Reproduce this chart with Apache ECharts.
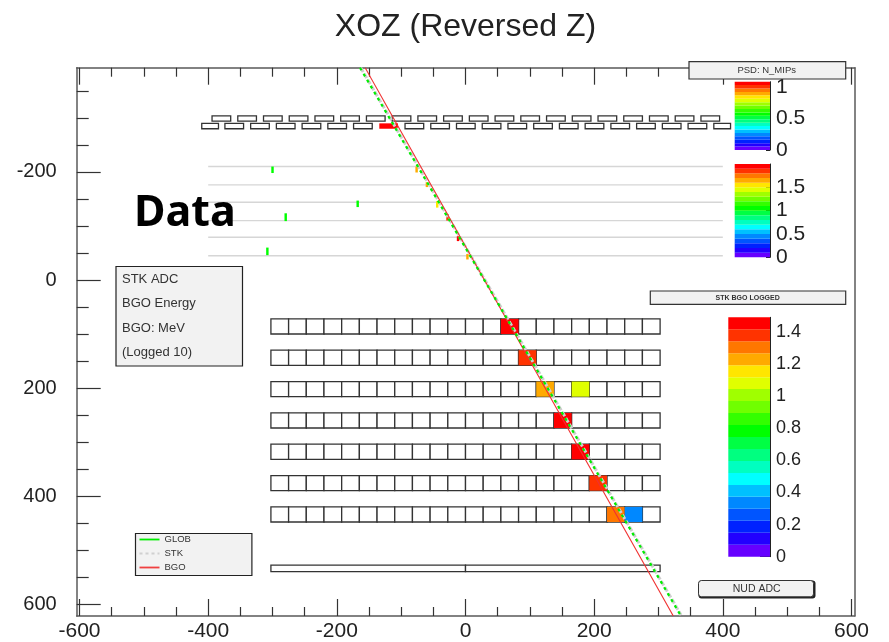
<!DOCTYPE html>
<html><head><meta charset="utf-8">
<style>html,body{margin:0;padding:0;background:#fff}#c{width:889px;height:642px}</style>
<script src="https://cdn.jsdelivr.net/npm/echarts@6/dist/echarts.min.js"></script>
</head><body><div id="c"></div>
<script>
// Axis ticks
const X_MAJOR = [-600,-400,-200,0,200,400,600];
const X_MINOR = [-550,-500,-450,-350,-300,-250,-150,-100,-50,50,100,150,250,300,350,450,500,550];
const Y_MAJOR = [-200,0,200,400,600];
const Y_MINOR = [-350,-300,-250,-150,-100,-50,50,100,150,250,300,350,450,500,550];
const X_RANGE = [-604.4,605];
const Y_RANGE = [-393,622];

// ROOT rainbow palette, lowest band first
const PALETTE = ['#6600ff','#2200ff','#0022ff','#0055ff','#0088ff','#00c0ff','#00ffff','#00ffc0','#00ff80','#00ff44',
                 '#00ff00','#33ff00','#70ff00','#a0ff00','#e0ff00','#ffe600','#ffaa00','#ff7700','#ff3300','#ff0000'];
const PSD_MAX = 1.08, STK_MAX = 1.99, BGO_MAX = 1.49;
const PSD_TICKS = [0,0.5,1], STK_TICKS = [0,0.5,1,1.5], BGO_TICKS = [0,0.2,0.4,0.6,0.8,1,1.2,1.4];

// PSD bars: x start of each bar
const PSD_UPPER_STARTS = [-394,-354,-314,-274,-234,-194,-154,-114,-74,-34,6,46,86,126,166,206,246,286,326,366];
const PSD_UPPER_WIDTH = 29;
const PSD_LOWER_STARTS = [-374,-334,-294,-254,-214,-174,-134,-94,-54,-14,26,66,106,146,186,226,266,306,346];
const PSD_LOWER_WIDTH = 29;
const PSD_LOWER_FIRST = [-410,-384];
const PSD_LOWER_LAST = [386,412];
const PSD_HIT_BAR = [-134,-105,1.05];
const PSD_Y_UPPER = [-304,-294];
const PSD_Y_LOWER = [-290,-280];

// STK ladders
const STK_LAYERS = [-210,-176,-144,-110,-79,-45];
const STK_X = [-400,400];
// STK hits: x, y start, y end, value
const STK_HITS = [
 [-300,-210,-198,1.03],[-279.5,-123.5,-109,1.03],[-167.6,-147,-135,1.03],[-308,-60,-46,1.03],
 [-76,-210,-199,1.64],[-60,-181,-172,1.64],[-44,-146,-134,1.54],[-28,-122,-110,1.84],[-11.6,-81,-72,1.94],[3,-48,-38,1.64]
];

// BGO bars
const BGO_ROWS = [72,130,188,246,304,362,420];
const BGO_COLS = 22, BGO_BAR = 27.5, BGO_LEFT = -302.5, BGO_THICK = 28;
// BGO hits: row index, column index, value
const BGO_HITS = [[0,13,1.47],[1,14,1.38],[2,15,1.22],[2,17,1.1],[3,16,1.47],[4,17,1.47],[5,18,1.38],[6,19,1.3],[6,20,0.33]];

// NUD bars: x start, x end, y start, y end
const NUD_BARS = [[-302.5,0,528,540],[0,302.5,528,540]];

// Tracks: [x,y] end points
const GLOB_TRACK = [[-164,-393],[334,620]];
const STK_TRACK = [[-163,-393],[335,620]];
const BGO_TRACK = [[-156,-393],[323,622]];

function bandColor(v,max){return PALETTE[Math.min(19,Math.floor(v/max*20))];}

// Assemble rectangle rows [x0,x1,y0,y1]
const emptyRects = [];
const filledRects = [];
PSD_UPPER_STARTS.forEach(s=>emptyRects.push([s,s+PSD_UPPER_WIDTH,PSD_Y_UPPER[0],PSD_Y_UPPER[1]]));
emptyRects.push([PSD_LOWER_FIRST[0],PSD_LOWER_FIRST[1],PSD_Y_LOWER[0],PSD_Y_LOWER[1]]);
PSD_LOWER_STARTS.forEach(s=>{ if(s!==PSD_HIT_BAR[0]) emptyRects.push([s,s+PSD_LOWER_WIDTH,PSD_Y_LOWER[0],PSD_Y_LOWER[1]]); });
emptyRects.push([PSD_LOWER_LAST[0],PSD_LOWER_LAST[1],PSD_Y_LOWER[0],PSD_Y_LOWER[1]]);
BGO_ROWS.forEach(r=>{for(let c=0;c<BGO_COLS;c++){const x=BGO_LEFT+c*BGO_BAR;emptyRects.push([x,x+BGO_BAR,r,r+BGO_THICK]);}});
NUD_BARS.forEach(b=>emptyRects.push(b));
const hitColors = [];
filledRects.push([PSD_HIT_BAR[0],PSD_HIT_BAR[1],PSD_Y_LOWER[0],PSD_Y_LOWER[1]]); hitColors.push(bandColor(PSD_HIT_BAR[2],PSD_MAX));
BGO_HITS.forEach(h=>{const x=BGO_LEFT+h[1]*BGO_BAR,y=BGO_ROWS[h[0]];filledRects.push([x,x+BGO_BAR,y,y+BGO_THICK]);hitColors.push(bandColor(h[2],BGO_MAX));});
const stkRects = STK_HITS.map(h=>[h[0]-1.9,h[0]+1.9,h[1],h[2]]);
const stkColors = STK_HITS.map(h=>bandColor(h[3],STK_MAX));

function rectSeries(name,data,fill,stroke,lw,z){
  return {type:'custom',name,xAxisIndex:0,yAxisIndex:0,z,data,silent:true,
    encode:{x:[0,1],y:[2,3]},
    renderItem(p,api){
      const a=api.coord([api.value(0),api.value(2)]),b=api.coord([api.value(1),api.value(3)]);
      return {type:'rect',shape:{x:a[0],y:a[1],width:b[0]-a[0],height:b[1]-a[1]},
        style:{fill:typeof fill==='function'?fill(p.dataIndex):fill,stroke:stroke,lineWidth:lw}};
    }};
}
function barSeries(ax,max){
  const d=PALETTE.map((c,i)=>[i*max/20,(i+1)*max/20]);
  return {type:'custom',xAxisIndex:ax,yAxisIndex:ax-1,data:d,silent:true,encode:{y:[0,1]},
    renderItem(p,api){
      const a=api.coord([0,api.value(0)]),b=api.coord([1,api.value(1)]);
      return {type:'rect',shape:{x:a[0],y:b[1],width:b[0]-a[0],height:a[1]-b[1]},style:{fill:PALETTE[p.dataIndex]}};
    }};
}
const frameLine={show:true,onZero:false,lineStyle:{color:'#5a5a5a',width:1.5}};
const noLine={show:false,onZero:false};
const tickStyle={color:'#333',width:1.2};
const mono='"Liberation Sans",Arial,sans-serif';

function xAx(pos,vals,len,line,label){return {type:'value',gridIndex:0,position:pos,min:X_RANGE[0],max:X_RANGE[1],
  axisLine:line?frameLine:noLine,splitLine:{show:false},minorTick:{show:false},
  axisTick:{show:true,inside:true,length:len,customValues:vals,lineStyle:tickStyle},
  axisLabel:label?{show:true,customValues:vals,color:'#222',fontSize:21,fontFamily:mono,margin:5,showMinLabel:true,showMaxLabel:true,hideOverlap:false}:{show:false}};}
function yAx(vals,len,line,label){return {type:'value',gridIndex:0,position:'left',inverse:true,min:Y_RANGE[0],max:Y_RANGE[1],
  axisLine:line?frameLine:noLine,splitLine:{show:false},minorTick:{show:false},
  axisTick:{show:true,inside:true,length:len,customValues:vals,lineStyle:tickStyle},
  axisLabel:label?{show:true,customValues:vals,color:'#222',fontSize:20,fontFamily:mono,margin:20,hideOverlap:false}:{show:false}};}
function cbX(g){return {type:'value',gridIndex:g,min:0,max:1,show:false};}
function cbY(g,max,ticks,len,fs){return {type:'value',gridIndex:g,position:'right',min:0,max:max,
  axisLine:{show:true,onZero:false,lineStyle:{color:'#222',width:1}},splitLine:{show:false},
  axisTick:{show:true,inside:true,length:len,customValues:ticks,lineStyle:{color:'#222',width:1}},
  axisLabel:{show:true,customValues:ticks,color:'#222',fontSize:fs,fontFamily:mono,margin:6,hideOverlap:false}};}

const gridAt=(l,r,t,b)=>({left:l,top:t,width:r-l,height:b-t,containLabel:false,show:false});
const solid='path://M0,0H20V1.8H0Z';
const dotted='path://M0,0H3V1.8H0ZM6,0H9V1.8H6ZM12,0H15V1.8H12ZM18,0H20V1.8H18Z';

const option={
  animation:false,backgroundColor:'#fff',
  title:{text:'XOZ (Reversed Z)',left:460.5,top:6,textAlign:'center',textStyle:{fontFamily:mono,fontSize:32,fontWeight:'normal',color:'#222'}},
  grid:[gridAt(76.7,854.7,67.7,616),gridAt(734.7,770,81.7,150),gridAt(734.7,770,164,257.3),gridAt(728.3,770,317.3,556.7)],
  xAxis:[xAx('bottom',X_MAJOR,17,true,true),xAx('bottom',X_MINOR,9,false,false),xAx('top',X_MAJOR,17,true,false),xAx('top',X_MINOR,9,false,false),cbX(1),cbX(2),cbX(3)],
  yAxis:[yAx(Y_MAJOR,24,true,true),yAx(Y_MINOR,12,false,false),
    {type:'value',gridIndex:0,position:'right',inverse:true,min:Y_RANGE[0],max:Y_RANGE[1],axisLine:frameLine,axisTick:{show:false},axisLabel:{show:false},splitLine:{show:false}},
    cbY(1,PSD_MAX,PSD_TICKS,4,21),cbY(2,STK_MAX,STK_TICKS,4,21),cbY(3,BGO_MAX,BGO_TICKS,10,18)],
  legend:{show:true,orient:'vertical',left:135.5,top:533.5,padding:[1,61,3,4],itemGap:4,itemWidth:20,itemHeight:12,
    backgroundColor:'#f2f2f2',borderColor:'#222',borderWidth:1.2,
    textStyle:{fontSize:9.5,fontFamily:mono,color:'#333'},
    data:[{name:'GLOB',icon:solid,itemStyle:{color:'#00ee00'}},{name:'STK',icon:dotted,itemStyle:{color:'#d0d0d0'}},{name:'BGO',icon:solid,itemStyle:{color:'#f04040'}}]},
  graphic:[
    {type:'rect',z:20,shape:{x:116,y:266.5,width:126.5,height:99.5},style:{fill:'#f2f2f2',stroke:'#222',lineWidth:1.2}},
    {type:'text',z:21,style:{x:122,y:279,text:'STK ADC',font:'13px '+mono,fill:'#333',verticalAlign:'middle'}},
    {type:'text',z:21,style:{x:122,y:303,text:'BGO Energy',font:'13px '+mono,fill:'#333',verticalAlign:'middle'}},
    {type:'text',z:21,style:{x:122,y:328,text:'BGO: MeV',font:'13px '+mono,fill:'#333',verticalAlign:'middle'}},
    {type:'text',z:21,style:{x:122,y:352,text:'(Logged 10)',font:'13px '+mono,fill:'#333',verticalAlign:'middle'}},
    {type:'rect',z:20,shape:{x:689,y:61.7,width:156.7,height:17.3},style:{fill:'#f2f2f2',stroke:'#333',lineWidth:1.2}},
    {type:'text',z:21,style:{x:766.7,y:70,text:'PSD: N_MIPs',font:'9.5px '+mono,fill:'#333',align:'center',verticalAlign:'middle'}},
    {type:'rect',z:20,shape:{x:650.3,y:291,width:195.4,height:13.3},style:{fill:'#f2f2f2',stroke:'#333',lineWidth:1.2}},
    {type:'text',z:21,style:{x:747.7,y:297.7,text:'STK BGO LOGGED',font:'bold 7px '+mono,fill:'#333',align:'center',verticalAlign:'middle'}},
    {type:'rect',z:20,shape:{x:698.5,y:580.5,width:117,height:18,r:3},style:{fill:'#222'}},
    {type:'rect',z:20,shape:{x:698.5,y:580.5,width:115,height:16.3,r:3},style:{fill:'#f2f2f2',stroke:'#333',lineWidth:1}},
    {type:'text',z:21,style:{x:756.7,y:589,text:'NUD ADC',font:'10.5px '+mono,fill:'#333',align:'center',verticalAlign:'middle'}},
    {type:'text',z:21,style:{x:134,y:214,text:'Data',fontFamily:'"Noto Sans",sans-serif',fontWeight:'bold',fontSize:43,fill:'#000',verticalAlign:'middle'}}
  ],
  series:[
    ...STK_LAYERS.map(y=>({type:'line',xAxisIndex:0,yAxisIndex:0,silent:true,symbol:'none',z:1,legendHoverLink:false,
      data:[[STK_X[0],y],[STK_X[1],y]],lineStyle:{color:'#d6d6d6',width:1.4}})),
    rectSeries('bars',emptyRects,'#fff','#333',1.3,2),
    rectSeries('hits',filledRects,i=>hitColors[i],'#ff000000',0,3),
    rectSeries('stk',stkRects,i=>stkColors[i],'#ffffff00',0,3),
    barSeries(4,PSD_MAX),barSeries(5,STK_MAX),barSeries(6,BGO_MAX),
    {type:'line',name:'STK',xAxisIndex:0,yAxisIndex:0,silent:true,symbol:'none',z:4,data:STK_TRACK,color:'#cfcfcf',lineStyle:{color:'#cfcfcf',width:3,type:[5,2]}},
    {type:'line',name:'GLOB',xAxisIndex:0,yAxisIndex:0,silent:true,symbol:'none',z:6,data:GLOB_TRACK,color:'#00ee00',lineStyle:{color:'#00ee00',width:2.2,type:[3,4]}},
    {type:'line',name:'BGO',xAxisIndex:0,yAxisIndex:0,silent:true,symbol:'none',z:5,data:BGO_TRACK,color:'#f03030',lineStyle:{color:'#f03030',width:1.1}}
  ]
};
echarts.init(document.getElementById('c')).setOption(option);
</script></body></html>
